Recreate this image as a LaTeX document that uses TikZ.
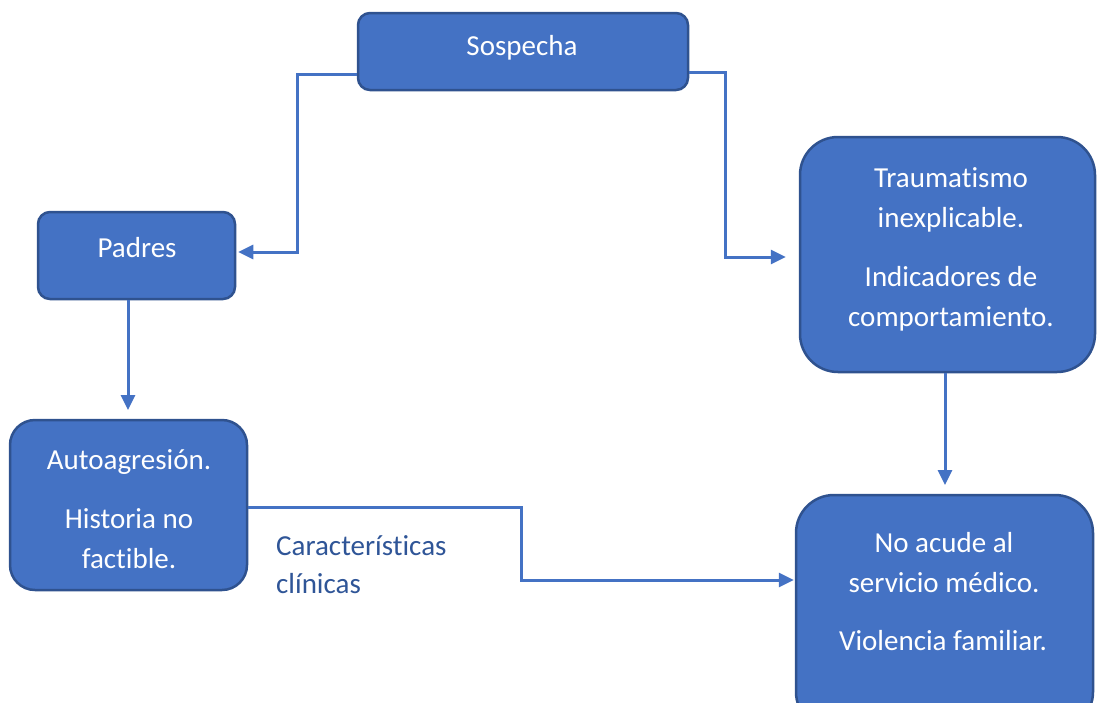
\documentclass[tikz,border=0pt]{standalone}
\usepackage{fontspec}
\setmainfont{Carlito}[Ligatures={NoCommon}]
\usetikzlibrary{arrows.meta}
\definecolor{boxfill}{HTML}{4472C4}
\definecolor{boxline}{HTML}{2F528F}
\definecolor{lbl}{HTML}{2F5597}
\tikzset{
  box/.style={draw=boxline, line width=2.5pt, fill=boxfill, rectangle},
  txt/.style={text=white, align=center, font=\fontsize{29}{40}\selectfont, inner sep=0pt},
  conn/.style={draw=boxfill, line width=3pt, -{Triangle[length=15pt,width=14pt]}},
  lab/.style={text=lbl, align=left, font=\fontsize{29}{38}\selectfont, inner sep=0pt, anchor=west}
}
\begin{document}
\begin{tikzpicture}[x=1pt,y=-1pt]
\useasboundingbox (0,0) rectangle (1097,702);
\clip (0,0) rectangle (1097,702);
% boxes
\node[box, rounded corners=12pt, minimum width=330pt, minimum height=77pt] (s) at (523,51.5) {};
\node[box, rounded corners=12pt, minimum width=197pt, minimum height=87pt] (p) at (136.5,255.5) {};
\node[box, rounded corners=38pt, minimum width=295pt, minimum height=235pt] (t) at (947.5,254.5) {};
\node[box, rounded corners=25pt, minimum width=237pt, minimum height=170pt] (a) at (128.5,505) {};
\node[box, rounded corners=38pt, minimum width=297pt, minimum height=235pt] (n) at (944.5,612.5) {};
% texts
\node[txt] (stx) at (522,48) {Sospecha};
\node[txt] (ptx) at (137,248) {Padres};
\node[txt] (t1) at (951,200) {Traumatismo\\inexplicable.};
\node[txt] (t2) at (951,298.5) {Indicadores de\\comportamiento.};
\node[txt] (a1) at (129,462) {Autoagresión.};
\node[txt] (a2) at (129,539) {Historia no\\factible.};
\node[txt] (n1) at (944,562.5) {No acude al\\servicio médico.};
\node[txt] (n2) at (943,641) {Violencia familiar.};
\node[lab] (cl) at (276,565) {Características\\clínicas};
% connectors
\coordinate (sL) at (s.west |- 0,74);
\coordinate (sR) at (s.east |- 0,72);
\coordinate (pR) at (p.east |- 0,252);
\coordinate (tL) at (t.west |- 0,257);
\coordinate (aR) at (a.east |- 0,507);
\coordinate (nL) at (n.west |- 0,580);
\draw[conn] (sL) -- (297,74) -- (297,252) -- ([xshift=2pt]pR);
\draw[conn] (sR) -- (725,72) -- (725,257) -- ([xshift=-13pt]tL);
\draw[conn] (p.south -| 128,0) -- (128,410);
\draw[conn] (t.south -| 945,0) -- (945,485);
\draw[conn] (aR) -- (521,507) -- (521,580) -- ([xshift=-1pt]nL);
\end{tikzpicture}
\end{document}
